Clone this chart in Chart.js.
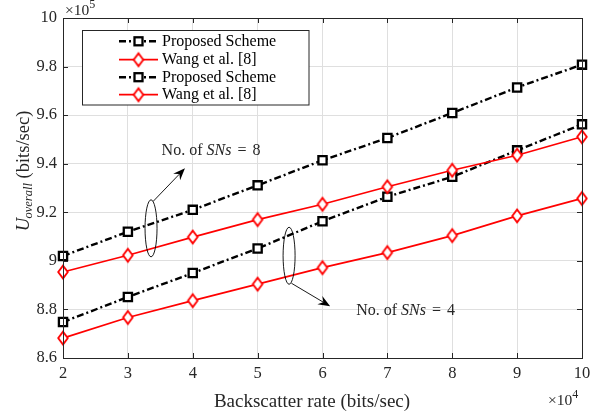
<!DOCTYPE html>
<html><head><meta charset="utf-8">
<script src="https://cdn.jsdelivr.net/npm/chart.js@4/dist/chart.umd.min.js"></script>
<style>html,body{margin:0;padding:0;background:#fff;overflow:hidden}</style>
</head><body>
<canvas id="c" width="599" height="419" style="display:block;width:599px;height:419px"></canvas>
<script>
// ---- data (x in units of 10^4 bits/sec, y in units of 10^5 bits/sec) ----
const backscatterRates = [2, 3, 4, 5, 6, 7, 8, 9, 10];
const proposedSN8 = [9.020, 9.120, 9.210, 9.311, 9.414, 9.506, 9.609, 9.714, 9.808];
const wangSN8     = [8.954, 9.023, 9.098, 9.170, 9.233, 9.305, 9.373, 9.435, 9.511];
const proposedSN4 = [8.748, 8.851, 8.950, 9.051, 9.163, 9.264, 9.346, 9.455, 9.562];
const wangSN4     = [8.682, 8.767, 8.836, 8.904, 8.972, 9.034, 9.104, 9.185, 9.257];
const seriesLabels = ['Proposed Scheme', 'Wang et al. [8]', 'Proposed Scheme', 'Wang et al. [8]'];
const xTickValues = [2, 3, 4, 5, 6, 7, 8, 9, 10];
const xTickLabels = ['2', '3', '4', '5', '6', '7', '8', '9', '10'];
const yTickValues = [8.6, 8.8, 9, 9.2, 9.4, 9.6, 9.8, 10];
const yTickLabels = ['8.6', '8.8', '9', '9.2', '9.4', '9.6', '9.8', '10'];
const annotationNotes = [
  { n: '8', ellipse: [3.357, 9.134], arrowFrom: [3.39, 9.245], arrowTo: [3.88, 9.381], textAt: [3.52, 9.452] },
  { n: '4', ellipse: [5.485, 9.021], arrowFrom: [5.52, 8.908], arrowTo: [6.118, 8.813], textAt: [6.519, 8.794] }
];

// ---- styles ----
const SERIF = '"Liberation Serif", "Times New Roman", serif';
const AXIS_COLOR = '#262626';

function makeDiamond() {
  const cv = document.createElement('canvas');
  cv.width = 14; cv.height = 18;
  const g = cv.getContext('2d');
  g.beginPath();
  g.moveTo(7, 2.6); g.lineTo(11.8, 9); g.lineTo(7, 15.4); g.lineTo(2.2, 9); g.closePath();
  g.fillStyle = '#fff'; g.fill();
  g.lineWidth = 1.8; g.strokeStyle = '#ff0000'; g.stroke();
  return cv;
}
const diamond = makeDiamond();

function toXY(xs, ys) { return xs.map((x, i) => ({ x: x, y: ys[i] })); }

const blackStyle = {
  borderColor: '#000', borderWidth: 2.4, borderDash: [7, 3, 2, 3],
  pointStyle: 'rect', pointRadius: 5.8, pointBorderWidth: 2.3,
  pointBackgroundColor: '#fff', pointBorderColor: '#000', kind: 'square'
};
const redStyle = {
  borderColor: '#ff0000', borderWidth: 1.7, borderDash: [],
  pointStyle: diamond, pointRadius: 7, kind: 'diamond'
};

const datasets = [
  Object.assign({ label: seriesLabels[0], data: toXY(backscatterRates, proposedSN8) }, blackStyle),
  Object.assign({ label: seriesLabels[1], data: toXY(backscatterRates, wangSN8) }, redStyle),
  Object.assign({ label: seriesLabels[2], data: toXY(backscatterRates, proposedSN4) }, blackStyle),
  Object.assign({ label: seriesLabels[3], data: toXY(backscatterRates, wangSN4) }, redStyle)
].map(d => Object.assign(d, { fill: false, tension: 0, clip: false, showLine: true }));

function richWidth(ctx, parts) {
  let w = 0;
  for (const p of parts) { ctx.font = p.f; w += (p.pre || 0) + ctx.measureText(p.t).width + (p.post || 0); }
  return w;
}
function drawRich(ctx, parts, x, y) {
  let cx = x;
  for (const p of parts) {
    ctx.font = p.f; cx += p.pre || 0;
    ctx.fillText(p.t, cx, y + (p.dy || 0));
    cx += ctx.measureText(p.t).width + (p.post || 0);
  }
}
function drawArrow(ctx, x1, y1, x2, y2) {
  const a = Math.atan2(y2 - y1, x2 - x1);
  const L = 12, W = 4.8, N = 4;
  ctx.beginPath(); ctx.moveTo(x1, y1); ctx.lineTo(x2 - Math.cos(a) * (L - N), y2 - Math.sin(a) * (L - N)); ctx.stroke();
  ctx.save(); ctx.translate(x2, y2); ctx.rotate(a);
  ctx.beginPath(); ctx.moveTo(0, 0); ctx.lineTo(-L, -W); ctx.lineTo(-L + N, 0); ctx.lineTo(-L, W); ctx.closePath(); ctx.fill();
  ctx.restore();
}

const decorPlugin = {
  id: 'decor',
  beforeDraw(chart) {
    const ctx = chart.ctx;
    ctx.save(); ctx.fillStyle = '#fff'; ctx.fillRect(0, 0, chart.width, chart.height); ctx.restore();
  },
  afterDraw(chart) {
    const ctx = chart.ctx;
    const a = chart.chartArea;
    const xs = chart.scales.x, ys = chart.scales.y;
    ctx.save();
    // axes box and inward ticks
    ctx.strokeStyle = AXIS_COLOR; ctx.lineWidth = 1;
    ctx.strokeRect(Math.round(a.left) + 0.5, Math.round(a.top) + 0.5, Math.round(a.right - a.left), Math.round(a.bottom - a.top));
    ctx.beginPath();
    xTickValues.forEach(v => {
      const px = Math.round(xs.getPixelForValue(v)) + 0.5;
      ctx.moveTo(px, a.bottom); ctx.lineTo(px, a.bottom - 5);
      ctx.moveTo(px, a.top); ctx.lineTo(px, a.top + 5);
    });
    yTickValues.forEach(v => {
      const py = Math.round(ys.getPixelForValue(v)) + 0.5;
      ctx.moveTo(a.left, py); ctx.lineTo(a.left + 5, py);
      ctx.moveTo(a.right, py); ctx.lineTo(a.right - 5, py);
    });
    ctx.stroke();

    // exponent labels
    ctx.fillStyle = AXIS_COLOR; ctx.textBaseline = 'alphabetic'; ctx.textAlign = 'left';
    drawRich(ctx, [{ t: '\u00d710', f: '15.5px ' + SERIF }, { t: '5', f: '12px ' + SERIF, dy: -7 }], a.left + 2, 15);
    drawRich(ctx, [{ t: '\u00d710', f: '15.5px ' + SERIF }, { t: '4', f: '12px ' + SERIF, dy: -7 }], 548, 405);

    // x title
    ctx.font = '19px ' + SERIF; ctx.textAlign = 'center';
    ctx.fillText('Backscatter rate (bits/sec)', 312, 407);

    // y title (rotated, with italic subscript)
    const yParts = [
      { t: 'U', f: 'italic 18.5px ' + SERIF },
      { t: 'overall', f: 'italic 12.5px ' + SERIF, dy: 3.5, pre: -0.5 },
      { t: ' (bits/sec)', f: '18.5px ' + SERIF }
    ];
    ctx.save(); ctx.translate(28.5, 171); ctx.rotate(-Math.PI / 2); ctx.textAlign = 'left';
    const yw = richWidth(ctx, yParts);
    drawRich(ctx, yParts, -yw / 2, 0);
    ctx.restore();

    // annotations
    ctx.strokeStyle = '#000'; ctx.fillStyle = '#000'; ctx.lineWidth = 0.9; ctx.textAlign = 'left'; ctx.textBaseline = 'middle';
    annotationNotes.forEach(n => {
      const ex = xs.getPixelForValue(n.ellipse[0]), ey = ys.getPixelForValue(n.ellipse[1]);
      ctx.beginPath(); ctx.ellipse(ex, ey, 6, 28.5, 0, 0, Math.PI * 2); ctx.stroke();
      drawArrow(ctx, xs.getPixelForValue(n.arrowFrom[0]), ys.getPixelForValue(n.arrowFrom[1]),
                xs.getPixelForValue(n.arrowTo[0]), ys.getPixelForValue(n.arrowTo[1]));
      ctx.fillStyle = AXIS_COLOR;
      drawRich(ctx, [
        { t: 'No. of ', f: '16px ' + SERIF },
        { t: 'SNs', f: 'italic 16px ' + SERIF },
        { t: '=', f: '16px ' + SERIF, pre: 6, post: 6 },
        { t: n.n, f: '16px ' + SERIF }
      ], xs.getPixelForValue(n.textAt[0]), ys.getPixelForValue(n.textAt[1]));
      ctx.fillStyle = '#000';
    });

    // legend box
    const bx = 82.5, by = 30.5, bw = 226.5, bh = 74.5;
    ctx.fillStyle = '#fff'; ctx.fillRect(bx, by, bw, bh);
    ctx.strokeStyle = AXIS_COLOR; ctx.lineWidth = 1; ctx.setLineDash([]); ctx.strokeRect(bx, by, bw, bh);
    const rows = [41.3, 59.7, 77.2, 94.7];
    chart.data.datasets.forEach((d, i) => {
      const ry = rows[i];
      ctx.strokeStyle = d.borderColor; ctx.lineWidth = d.borderWidth; ctx.setLineDash(d.borderDash || []);
      ctx.beginPath(); ctx.moveTo(119, ry); ctx.lineTo(158, ry); ctx.stroke();
      ctx.setLineDash([]);
      if (d.kind === 'square') {
        ctx.fillStyle = '#fff'; ctx.fillRect(134.5, ry - 4, 8, 8);
        ctx.lineWidth = d.pointBorderWidth; ctx.strokeStyle = d.pointBorderColor;
        ctx.strokeRect(134.5, ry - 4, 8, 8);
      } else {
        ctx.drawImage(diamond, 138.5 - diamond.width / 2, ry - diamond.height / 2);
      }
      ctx.fillStyle = '#000'; ctx.font = '16px ' + SERIF; ctx.textBaseline = 'middle'; ctx.textAlign = 'left';
      ctx.fillText(d.label, 162, ry + 0.5);
    });
    ctx.restore();
  }
};

new Chart(document.getElementById('c'), {
  type: 'line',
  data: { datasets: datasets },
  options: {
    responsive: false, animation: false, events: [], devicePixelRatio: 1,
    layout: { padding: { top: 18, right: 17, left: 0, bottom: 0 } },
    plugins: { legend: { display: false }, tooltip: { enabled: false }, title: { display: false } },
    scales: {
      x: {
        type: 'linear', min: 2, max: 10,
        afterFit: s => { s.height = 61; },
        afterBuildTicks: s => { s.ticks = xTickValues.map(v => ({ value: v })); },
        ticks: {
          padding: 6, color: AXIS_COLOR, font: { family: SERIF, size: 16.5 }, maxRotation: 0,
          callback: (v) => { const i = xTickValues.indexOf(v); return i >= 0 ? xTickLabels[i] : ''; }
        },
        grid: { color: '#dfdfdf', lineWidth: 1, drawTicks: false },
        border: { display: false }
      },
      y: {
        type: 'linear', min: 8.6, max: 10,
        afterFit: s => { s.width = 63; },
        afterBuildTicks: s => { s.ticks = yTickValues.map(v => ({ value: v })); },
        ticks: {
          padding: 6, color: AXIS_COLOR, font: { family: SERIF, size: 16.5 },
          callback: (v) => { const i = yTickValues.findIndex(t => Math.abs(t - v) < 1e-6); return i >= 0 ? yTickLabels[i] : ''; }
        },
        grid: { color: '#dfdfdf', lineWidth: 1, drawTicks: false },
        border: { display: false }
      }
    }
  },
  plugins: [decorPlugin]
});
</script>
</body></html>
